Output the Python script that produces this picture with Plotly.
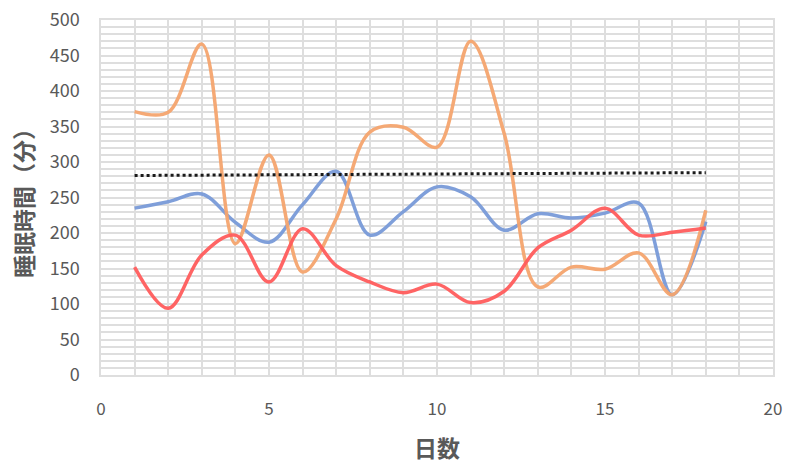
import plotly.graph_objects as go

# Day index and sleep duration (minutes) for three people
days = list(range(1, 19))
sleep_blue = [235, 244, 255, 215, 187, 240, 287, 197, 230, 265, 251, 204, 227, 221, 228, 242, 113, 216]
sleep_orange = [371, 370, 466, 185, 310, 145, 220, 342, 349, 321, 470, 340, 124, 152, 149, 172, 113, 232]
sleep_red = [152, 94, 169, 197, 131, 206, 154, 131, 116, 128, 102, 118, 179, 204, 235, 197, 201, 207]

# Trend line across the period
trend_x = [1, 18]
trend_y = [281, 285]

x_ticks = [0, 5, 10, 15, 20]
y_ticks = [0, 50, 100, 150, 200, 250, 300, 350, 400, 450, 500]

grid = "#dedede"
text_gray = "#595959"
font_family = "Noto Sans CJK JP, Noto Sans, sans-serif"

fig = go.Figure()

series = [
    (sleep_blue, "rgba(120,154,216,0.95)"),
    (sleep_orange, "rgba(244,164,110,0.95)"),
    (sleep_red, "rgba(255,92,92,0.95)"),
]
for values, color in series:
    fig.add_trace(go.Scatter(
        x=days, y=values, mode="lines",
        line=dict(color=color, width=3.5, shape="spline", smoothing=1.0),
        showlegend=False, hoverinfo="skip",
    ))

fig.add_trace(go.Scatter(
    x=trend_x, y=trend_y, mode="lines",
    line=dict(color="#1a1a1a", width=3, dash="dot"),
    showlegend=False, hoverinfo="skip",
))

fig.update_layout(
    width=785, height=465,
    margin=dict(l=101, r=12, t=20, b=90),
    paper_bgcolor="white", plot_bgcolor="white",
    font=dict(family=font_family, color=text_gray),
    xaxis=dict(
        range=[0, 20], tickvals=x_ticks, ticktext=[str(v) for v in x_ticks],
        showgrid=True, gridcolor=grid, gridwidth=1.5,
        minor=dict(dtick=1, showgrid=True, gridcolor=grid, gridwidth=1.5),
        showline=True, linecolor=grid, linewidth=1.5, mirror=True,
        zeroline=False, ticks="", tickfont=dict(size=17, color=text_gray),
        ticklabelstandoff=18, automargin=False,
        title=dict(text="<b>日数</b>", font=dict(size=23, color=text_gray), standoff=22),
    ),
    yaxis=dict(
        range=[0, 500], tickvals=y_ticks, ticktext=[str(v) for v in y_ticks],
        showgrid=True, gridcolor=grid, gridwidth=1.5,
        minor=dict(dtick=10, showgrid=True, gridcolor=grid, gridwidth=1.5),
        showline=True, linecolor=grid, linewidth=1.5, mirror=True,
        zeroline=False, ticks="", tickfont=dict(size=18, color=text_gray),
        ticklabelstandoff=16, automargin=False,
        title=dict(text="<b>睡眠時間（分）</b>", font=dict(size=23, color=text_gray), standoff=10),
    ),
)

fig.write_html("out.html")
